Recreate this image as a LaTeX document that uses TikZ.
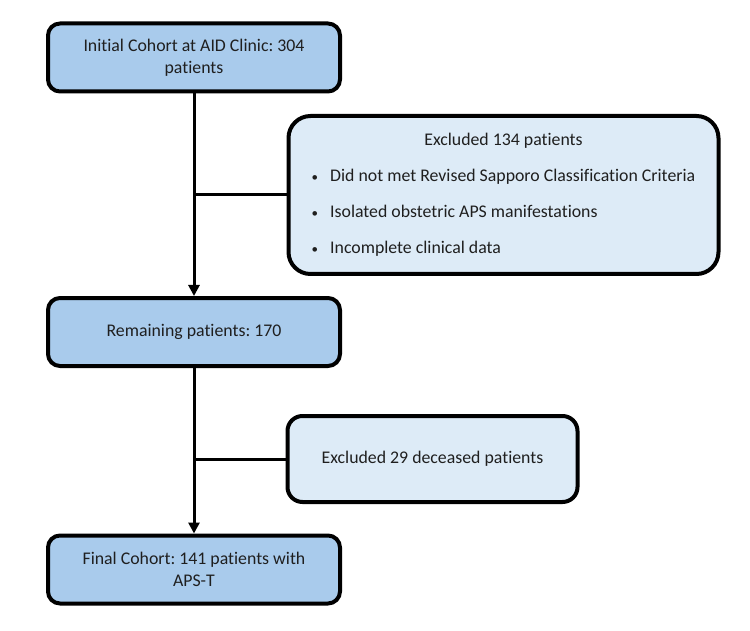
\documentclass[tikz,border=0pt]{standalone}
\usepackage{fontspec}
\setmainfont[Ligatures=NoCommon]{Carlito}
\frenchspacing
\usetikzlibrary{arrows.meta}
\definecolor{mainfill}{RGB}{169,203,236}
\definecolor{exclfill}{RGB}{221,235,247}
\newcommand{\smallbul}{{\fontsize{13}{13}\selectfont\textbullet}}

\begin{document}
\begin{tikzpicture}[
  x=1pt, y=-1pt,
  >={Triangle[width=11pt,length=11pt]},
  every node/.style={font=\fontsize{17.8}{22}\selectfont, text=black!88},
  mainbox/.style={draw, line width=4pt, fill=mainfill, rounded corners=12pt,
    minimum width=292pt, minimum height=68pt, align=center},
  exclbox/.style={draw, line width=4pt, fill=exclfill, align=center},
  flow/.style={line width=3pt}
]
  \useasboundingbox (0,0) rectangle (750,631);

  \node[mainbox] (init) at (194,57.5) {Initial Cohort at AID Clinic: 304\\patients};
  \node[exclbox, rounded corners=22pt, minimum width=430pt, minimum height=158pt]
    (excl1) at (503.5,195) {%
    \begin{tabular}{@{}l@{\hspace{12pt}}l@{}}
      \multicolumn{2}{c}{Excluded 134 patients}\\[14pt]
      \smallbul & Did not met Revised Sapporo Classification Criteria\\[14pt]
      \smallbul & Isolated obstetric APS manifestations\\[14pt]
      \smallbul & Incomplete clinical data
    \end{tabular}};
  \node[mainbox] (remain) at (194,332) {Remaining patients: 170};
  \node[exclbox, rounded corners=15pt, minimum width=290pt, minimum height=86pt]
    (excl2) at (432.5,459) {Excluded 29 deceased patients};
  \node[mainbox] (final) at (194,569.5) {Final Cohort: 141 patients with\\APS-T};

  \coordinate (j1) at (init.south |- excl1.west);
  \coordinate (j2) at (remain.south |- excl2.west);

  \draw[->, flow] (init) -- (remain);
  \draw[flow] (j1) -- (excl1);
  \draw[->, flow] (remain) -- (final);
  \draw[flow] (j2) -- (excl2);
\end{tikzpicture}
\end{document}
